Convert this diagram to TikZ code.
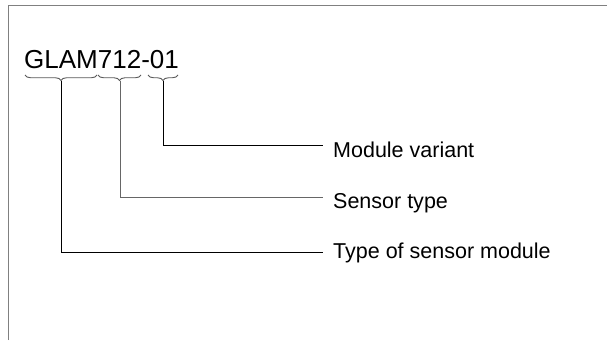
\documentclass[tikz,border=0pt]{standalone}
\usepackage{fontspec}
\setmainfont{Liberation Sans}
\usetikzlibrary{decorations.pathreplacing}
\begin{document}
\begin{tikzpicture}[x=1pt,y=-1pt,
  frame/.style={draw=black!50, line width=1.8pt},
  bracestyle/.style={draw=black!65, line width=0.9pt, decorate,
    decoration={brace, mirror, amplitude=5.5pt}},
  leader/.style={draw=black, line width=0.9pt},
  lbl/.style={anchor=base west, inner sep=0pt, font=\fontsize{21.5}{26}\selectfont},
  code/.style={anchor=base west, inner sep=0pt, font=\fontsize{26}{30}\selectfont}]
\useasboundingbox (0,0) rectangle (607,340);
\fill[white] (0,0) rectangle (607,340);
% frame
\draw[frame] (8.5,340) -- (8.5,5.5) -- (607,5.5);
% code text
\node[code] (code) at (24,68.5) {GLAM712-01};
% braces
\coordinate (b1a) at (25,75); \coordinate (b1b) at (97,75);
\coordinate (b2a) at (98,75); \coordinate (b2b) at (141,75);
\coordinate (b3a) at (148,75); \coordinate (b3b) at (178,75);
\draw[bracestyle] (b1a) -- (b1b);
\draw[bracestyle] (b2a) -- (b2b);
\draw[bracestyle] (b3a) -- (b3b);
\coordinate (t1) at (61,81);
\coordinate (t2) at (120,81);
\coordinate (t3) at (163,81);
% labels
\node[lbl] (l1) at (333,157.5) {Module variant};
\node[lbl] (l2) at (333,208.5) {Sensor type};
\node[lbl] (l3) at (333,258.5) {Type of sensor module};
\coordinate (e1) at (323,145);
\coordinate (e2) at (323,197);
\coordinate (e3) at (323,252);
\draw[leader] (t3) |- (e1);
\draw[leader, draw=black!60] (t2) |- (e2);
\draw[leader] (t1) |- (e3);
\end{tikzpicture}
\end{document}
